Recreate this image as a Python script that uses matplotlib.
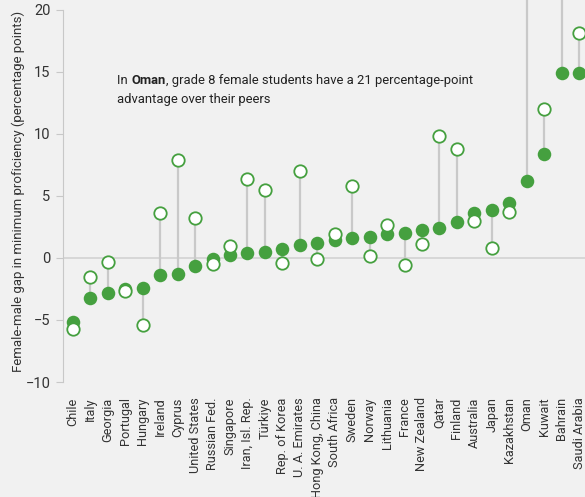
import matplotlib
matplotlib.use("Agg")
import matplotlib.pyplot as plt
import numpy as np

plt.rcParams['font.family'] = ['Roboto', 'DejaVu Sans']

# countries, sorted by the filled-marker value
countries = ['Chile', 'Italy', 'Georgia', 'Portugal', 'Hungary', 'Ireland', 'Cyprus',
             'United States', 'Russian Fed.', 'Singapore', 'Iran, Isl. Rep.', 'Türkiye',
             'Rep. of Korea', 'U. A. Emirates', 'Hong Kong, China', 'South Africa',
             'Sweden', 'Norway', 'Lithuania', 'France', 'New Zealand', 'Qatar',
             'Finland', 'Australia', 'Japan', 'Kazakhstan', 'Oman', 'Kuwait',
             'Bahrain', 'Saudi Arabia']

# filled markers
gap_filled = [-5.2, -3.2, -2.8, -2.5, -2.4, -1.4, -1.3, -0.65, -0.1, 0.2, 0.4, 0.5,
              0.7, 1.05, 1.2, 1.45, 1.6, 1.7, 1.9, 2.0, 2.25, 2.4, 2.9, 3.6, 3.85,
              4.45, 6.2, 8.4, 14.9, 14.95]
# open markers
gap_open = [-5.7, -1.5, -0.3, -2.7, -5.4, 3.6, 7.9, 3.2, -0.5, 1.0, 6.4, 5.5,
            -0.4, 7.0, -0.1, 1.9, 5.8, 0.15, 2.65, -0.55, 1.1, 9.8, 8.8, 3.0, 0.8,
            3.7, 23.0, 12.0, 23.0, 18.1]

yticks = [-10, -5, 0, 5, 10, 15, 20]

green = '#45a03f'
grey_txt = '#333333'
bg = '#f1f1f1'

fig = plt.figure(figsize=(5.85, 4.97), dpi=100, facecolor=bg)
ax = fig.add_axes([63 / 585, 115 / 497, 1 - 63 / 585, 382 / 497])
ax.set_facecolor(bg)

x = np.arange(len(countries))

ax.axhline(0, color='#d2d2d2', lw=1.2, zorder=1)
ax.vlines(x, gap_filled, gap_open, color='#c9c9c9', lw=1.6, zorder=2)
ax.scatter(x, gap_filled, s=95, color=green, zorder=3, linewidths=0)
ax.scatter(x, gap_open, s=80, facecolor='white', edgecolor=green, linewidths=1.3, zorder=4)

ax.set_xlim(-0.57, 29.34)
ax.set_ylim(-10, 20.8)
ax.set_yticks(yticks)
ax.set_xticks(x)
ax.set_xticklabels(countries, rotation=90, fontsize=9.2, color=grey_txt)
ax.tick_params(axis='x', length=0, pad=11)
ax.tick_params(axis='y', length=5, color='#c8c8c8', labelsize=10.5, labelcolor=grey_txt, pad=4)

for s in ['top', 'right', 'bottom']:
    ax.spines[s].set_visible(False)
ax.spines['left'].set_color('#c8c8c8')
ax.spines['left'].set_bounds(-10, 20)

fig.text(18 / 585, 0.615, 'Female-male gap in minimum proficiency (percentage points)',
         rotation=90, ha='center', va='center', fontsize=9.5, color=grey_txt)

# annotation with bold country name
t1 = ax.text(2.55, 14.0, 'In ', fontsize=9.4, color='#222222')
t2 = ax.annotate('Oman', xy=(1, 0), xycoords=t1, va='bottom', fontsize=9.4,
                 fontweight='bold', color='#222222')
ax.annotate(', grade 8 female students have a 21 percentage-point', xy=(1, 0),
            xycoords=t2, va='bottom', fontsize=9.4, color='#222222')
ax.text(2.55, 12.5, 'advantage over their peers', fontsize=9.4, color='#222222')

fig.savefig('out.png', dpi=100, facecolor=bg)
